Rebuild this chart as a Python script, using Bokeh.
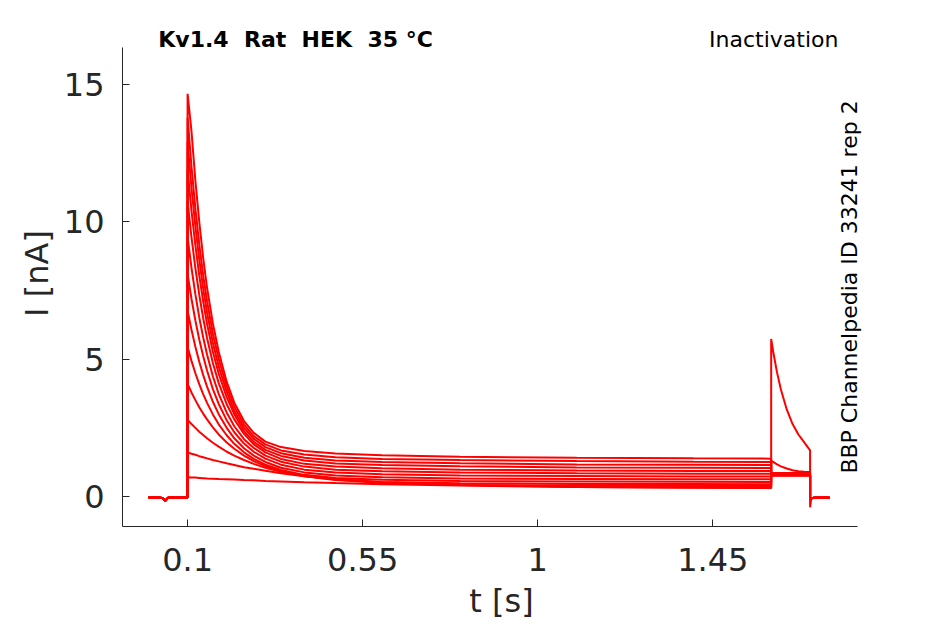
import math
from bokeh.plotting import figure
from bokeh.models import Range1d, FixedTicker, Label
from bokeh.embed import file_html
from bokeh.resources import INLINE

# ---- data ----
x_ticks = [0.1, 0.55, 1, 1.45]
x_tick_labels = ["0.1", "0.55", "1", "1.45"]
y_ticks = [0, 5, 10, 15]
y_tick_labels = ["0", "5", "10", "15"]

# holding period before the prepulse (shared by all sweeps)
t_base = [0.0, 0.02, 0.035, 0.043, 0.05, 0.07, 0.1]
I_base = [-0.03, -0.03, -0.05, -0.15, -0.04, -0.03, -0.03]

# prepulse (0.1 s - 1.6 s), one list per sweep, bottom to top
t_pre = [0.10, 0.11, 0.12, 0.13, 0.14, 0.15, 0.165, 0.18, 0.20, 0.22, 0.245,
         0.27, 0.30, 0.34, 0.40, 0.48, 0.60, 0.80, 1.10, 1.40, 1.60]
I_pre = [
    [0.70, 0.69, 0.69, 0.68, 0.67, 0.66, 0.65, 0.64, 0.63, 0.62, 0.60, 0.59, 0.57, 0.55, 0.52, 0.49, 0.45, 0.40, 0.35, 0.32, 0.31],
    [1.61, 1.56, 1.52, 1.47, 1.43, 1.39, 1.33, 1.28, 1.21, 1.15, 1.07, 1.01, 0.94, 0.85, 0.74, 0.64, 0.52, 0.42, 0.35, 0.33, 0.32],
    [2.79, 2.64, 2.50, 2.36, 2.24, 2.12, 1.96, 1.82, 1.64, 1.49, 1.33, 1.19, 1.05, 0.90, 0.74, 0.60, 0.49, 0.42, 0.39, 0.38, 0.38],
    [4.10, 3.79, 3.51, 3.25, 3.02, 2.81, 2.52, 2.26, 1.98, 1.74, 1.49, 1.29, 1.11, 0.93, 0.75, 0.62, 0.53, 0.48, 0.46, 0.46, 0.45],
    [5.44, 4.94, 4.49, 4.09, 3.73, 3.41, 2.99, 2.63, 2.24, 1.92, 1.61, 1.37, 1.16, 0.97, 0.79, 0.68, 0.61, 0.57, 0.55, 0.54, 0.53],
    [6.77, 6.07, 5.45, 4.91, 4.43, 4.00, 3.45, 3.00, 2.51, 2.12, 1.76, 1.49, 1.26, 1.05, 0.88, 0.77, 0.70, 0.66, 0.64, 0.63, 0.63],
    [8.10, 7.20, 6.41, 5.72, 5.12, 4.59, 3.91, 3.37, 2.79, 2.34, 1.93, 1.63, 1.38, 1.16, 0.98, 0.88, 0.81, 0.77, 0.75, 0.73, 0.73],
    [9.44, 8.33, 7.36, 6.52, 5.80, 5.17, 4.38, 3.74, 3.07, 2.56, 2.09, 1.77, 1.49, 1.27, 1.09, 0.98, 0.92, 0.88, 0.85, 0.83, 0.83],
    [10.75, 9.44, 8.32, 7.34, 6.50, 5.77, 4.86, 4.13, 3.38, 2.81, 2.28, 1.90, 1.61, 1.37, 1.19, 1.09, 1.03, 0.98, 0.95, 0.93, 0.93],
    [11.90, 10.41, 9.15, 8.05, 7.11, 6.29, 5.27, 4.47, 3.64, 3.00, 2.38, 1.99, 1.70, 1.48, 1.31, 1.20, 1.15, 1.10, 1.06, 1.05, 1.04],
    [12.90, 11.24, 9.84, 8.63, 7.58, 6.70, 5.60, 4.73, 3.84, 3.12, 2.50, 2.10, 1.80, 1.58, 1.41, 1.31, 1.26, 1.21, 1.17, 1.16, 1.15],
    [13.80, 12.01, 10.48, 9.18, 8.06, 7.11, 5.93, 5.01, 4.02, 3.28, 2.62, 2.20, 1.90, 1.68, 1.53, 1.43, 1.37, 1.33, 1.29, 1.27, 1.26],
    [14.66, 13.30, 11.50, 10.00, 8.70, 7.60, 6.30, 5.27, 4.20, 3.42, 2.75, 2.32, 2.00, 1.80, 1.66, 1.57, 1.50, 1.45, 1.41, 1.39, 1.38],
]

# test pulse (1.6 s - 1.7 s)
t_test = [1.600, 1.605, 1.615, 1.625, 1.640, 1.655, 1.670, 1.685, 1.700]
I_test = [
    [5.74, 5.29, 4.52, 3.90, 3.17, 2.64, 2.26, 1.97, 1.68],
    [1.31, 1.26, 1.17, 1.10, 1.02, 0.96, 0.92, 0.90, 0.89],
    [0.86, 0.86, 0.86, 0.86, 0.86, 0.86, 0.86, 0.86, 0.86],
    [0.84, 0.84, 0.84, 0.84, 0.84, 0.84, 0.84, 0.84, 0.84],
    [0.82, 0.82, 0.82, 0.82, 0.82, 0.82, 0.82, 0.82, 0.82],
    [0.81, 0.81, 0.81, 0.81, 0.81, 0.81, 0.81, 0.81, 0.81],
    [0.80, 0.80, 0.80, 0.80, 0.80, 0.80, 0.80, 0.80, 0.80],
    [0.79, 0.79, 0.79, 0.79, 0.79, 0.79, 0.79, 0.79, 0.79],
    [0.79, 0.79, 0.79, 0.79, 0.79, 0.79, 0.79, 0.79, 0.79],
    [0.78, 0.78, 0.78, 0.78, 0.78, 0.78, 0.78, 0.78, 0.78],
    [0.78, 0.78, 0.78, 0.78, 0.78, 0.78, 0.78, 0.78, 0.78],
    [0.77, 0.77, 0.77, 0.77, 0.77, 0.77, 0.77, 0.77, 0.77],
    [0.77, 0.77, 0.77, 0.77, 0.77, 0.77, 0.77, 0.77, 0.77],
]

# return to holding (1.7 s - 1.75 s)
t_tail = [1.700, 1.7025, 1.706, 1.712, 1.72, 1.75]
I_tail_first = [-0.39, -0.12, -0.06, -0.05, -0.04, -0.04]
I_tail_other = [-0.12, -0.06, -0.05, -0.04, -0.04, -0.04]

# axis extents (the visible spines)
x_lo, x_hi = -0.0673, 1.821
y_lo, y_hi = -1.09, 16.35

# ---- figure ----
TXT = "#262626"
p = figure(width=945, height=624,
           x_range=Range1d(x_lo, 1.881), y_range=Range1d(y_lo, 17.33),
           output_backend="svg", toolbar_location=None,
           min_border_left=122, min_border_right=65,
           min_border_top=20, min_border_bottom=98)
p.outline_line_color = None
p.grid.visible = False
p.background_fill_color = "white"
p.border_fill_color = "white"

for k in range(len(I_pre)):
    tail = I_tail_first if k == 0 else I_tail_other
    xs = t_base + t_pre + t_test + t_tail
    ys = I_base + I_pre[k] + I_test[k] + tail
    p.line(xs, ys, line_color="#ff0000", line_width=2.0)

for ax in (p.xaxis[0], p.yaxis[0]):
    ax.axis_line_color = TXT
    ax.axis_line_width = 1
    ax.major_tick_line_color = TXT
    ax.major_tick_in = 7
    ax.major_tick_out = 0
    ax.minor_tick_line_color = None
    ax.major_label_text_font = "DejaVu Sans"
    ax.major_label_text_font_size = "32px"
    ax.major_label_text_color = TXT
    ax.axis_label_text_font = "DejaVu Sans"
    ax.axis_label_text_font_size = "32px"
    ax.axis_label_text_font_style = "normal"
    ax.axis_label_text_color = TXT

p.xaxis.bounds = (x_lo, x_hi)
p.yaxis.bounds = (y_lo, y_hi)

p.xaxis.ticker = FixedTicker(ticks=x_ticks)
p.xaxis.major_label_overrides = dict(zip(x_ticks, x_tick_labels))
p.xaxis.major_label_standoff = 21
p.xaxis.axis_label = "t [s]"
p.xaxis.axis_label_standoff = 8

p.yaxis.ticker = FixedTicker(ticks=y_ticks)
p.yaxis.major_label_overrides = dict(zip(y_ticks, y_tick_labels))
p.yaxis.major_label_standoff = 18
p.yaxis.axis_label = "I [nA]"
p.yaxis.axis_label_standoff = 5

p.add_layout(Label(x=0.0247, y=16.63, text="Kv1.4 \u00a0Rat \u00a0HEK \u00a035 °C",
                   text_align="left", text_baseline="alphabetic",
                   text_font="DejaVu Sans", text_font_style="bold",
                   text_font_size="22px", text_color="black"))
p.add_layout(Label(x=1.773, y=16.63, text="Inactivation",
                   text_align="right", text_baseline="alphabetic",
                   text_font="DejaVu Sans", text_font_size="22px",
                   text_color="black"))
p.add_layout(Label(x=1.801, y=7.63, text="BBP Channelpedia ID 33241 rep 2",
                   angle=math.pi / 2, text_align="center", text_baseline="middle",
                   text_font="DejaVu Sans", text_font_size="22px",
                   text_color="black"))

open("out.html", "w").write(file_html(p, INLINE))
